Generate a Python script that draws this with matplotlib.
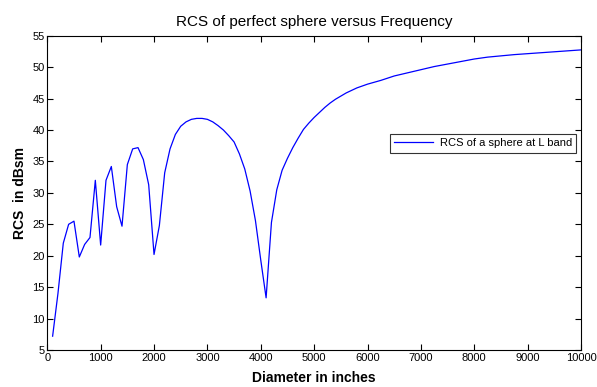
import matplotlib
matplotlib.use("Agg")
import matplotlib.pyplot as plt

plt.rcParams['font.family'] = ['Liberation Sans', 'DejaVu Sans']

# diameter (inches) and RCS (dBsm)
diameter = [100, 200, 300, 400, 500, 600, 700, 800, 900, 1000,
            1100, 1200, 1300, 1400, 1500, 1600, 1700, 1800, 1900, 2000,
            2100, 2200, 2300, 2400, 2500, 2600, 2700, 2800, 2900, 3000,
            3100, 3200, 3300, 3400, 3500, 3600, 3700, 3800, 3900, 4000,
            4100, 4200, 4300, 4400, 4500, 4600, 4700, 4800, 4900, 5000,
            5100, 5200, 5300, 5400, 5500, 5600, 5700, 5800, 5900, 6000,
            6250, 6500, 6750, 7000, 7250, 7500, 7750, 8000, 8250, 8500,
            8750, 9000, 9250, 9500, 9750, 10000]
rcs = [7.2, 14.0, 22.0, 25.0, 25.5, 19.8, 21.8, 22.9, 32.0, 21.7,
       32.0, 34.2, 27.8, 24.7, 34.5, 37.0, 37.2, 35.3, 31.3, 20.2,
       24.8, 33.2, 37.0, 39.3, 40.6, 41.3, 41.7, 41.85, 41.85, 41.7,
       41.3, 40.7, 40.0, 39.1, 38.1, 36.2, 33.8, 30.3, 25.6, 19.3,
       13.3, 25.3, 30.5, 33.6, 35.5, 37.2, 38.7, 40.1, 41.1, 42.0,
       42.8, 43.6, 44.3, 44.9, 45.4, 45.9, 46.3, 46.7, 47.0, 47.3,
       47.9, 48.6, 49.1, 49.6, 50.1, 50.5, 50.9, 51.3, 51.6, 51.8,
       52.0, 52.15, 52.3, 52.45, 52.6, 52.75]

xticks = list(range(0, 10001, 1000))
yticks = list(range(5, 56, 5))

fig = plt.figure(figsize=(5.97, 3.87), dpi=100)
ax = fig.add_axes([0.0792, 0.0956, 0.894, 0.812])

ax.plot(diameter, rcs, color='#0000ff', linewidth=0.9, label='RCS of a sphere at L band')

ax.set_xlim(0, 10000)
ax.set_ylim(5, 55)
ax.set_xticks(xticks)
ax.set_yticks(yticks)
ax.tick_params(direction='in', length=4, labelsize=8, top=True, right=True,
               labeltop=False, labelright=False, pad=2)
for s in ax.spines.values():
    s.set_linewidth(0.8)

ax.set_title('RCS of perfect sphere versus Frequency', fontsize=11, pad=7)
ax.set_xlabel('Diameter in inches', fontsize=10, fontweight='bold', labelpad=6)
ax.set_ylabel('RCS  in dBsm', fontsize=10, fontweight='bold', labelpad=4)

leg = ax.legend(loc='center right', bbox_to_anchor=(0.991, 0.658), fontsize=8,
                frameon=True, fancybox=False, borderaxespad=0, handlelength=3.5,
                borderpad=0.4, handletextpad=0.6)
leg.get_frame().set_edgecolor('black')
leg.get_frame().set_linewidth(0.8)

fig.savefig('out.png', dpi=100)
